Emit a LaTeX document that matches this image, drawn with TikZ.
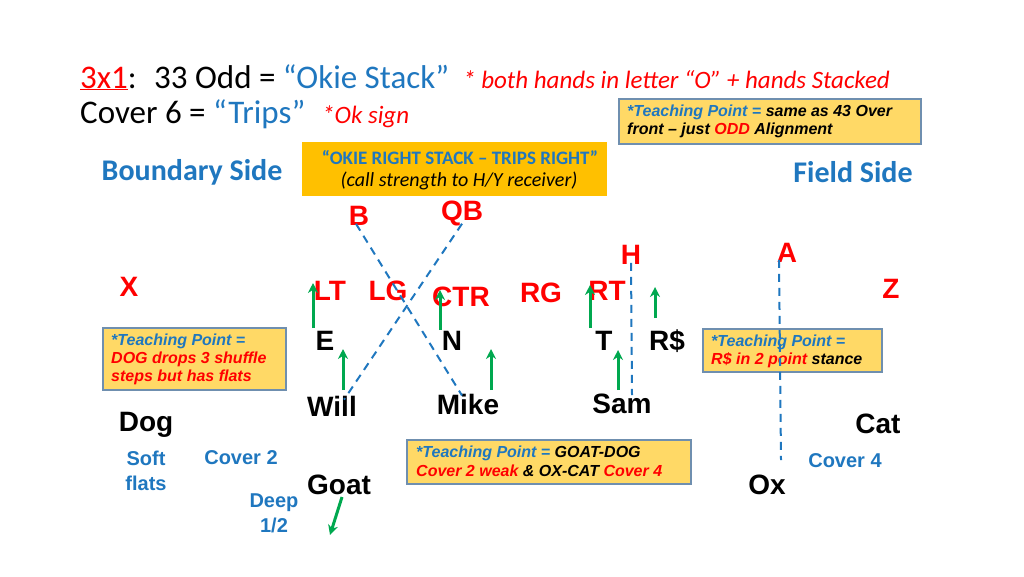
\documentclass[tikz,border=0pt]{standalone}
\usepackage{fontspec}
\usetikzlibrary{arrows.meta}
\setmainfont{Carlito}
\newfontfamily\arial{Liberation Sans}
\definecolor{tblue}{HTML}{1F77BF}
\definecolor{tred}{HTML}{FF0000}
\definecolor{tgreen}{HTML}{00A84F}
\definecolor{boxy}{HTML}{FFD966}
\definecolor{boxo}{HTML}{FFC000}
\definecolor{boxline}{HTML}{6F8FAF}
\begin{document}
\begin{tikzpicture}[x=1pt,y=-1pt,
  off/.style={text=tred,font=\arial\bfseries\fontsize{28}{28}\selectfont,inner sep=0pt},
  def/.style={text=black,font=\arial\bfseries\fontsize{28}{28}\selectfont,inner sep=0pt},
  lbl/.style={text=tblue,font=\arial\bfseries\fontsize{20}{25}\selectfont,inner sep=0pt,align=center},
  tbox/.style={draw=boxline,fill=boxy,line width=1.2pt,inner sep=0pt,anchor=north west},
  ttext/.style={font=\arial\bfseries\itshape\fontsize{16}{18}\selectfont,align=left,anchor=west,inner sep=0pt},
  garrow/.style={draw=tgreen,line width=3pt,-{Stealth[length=10pt,width=10pt]}},
  bdash/.style={draw=tblue,line width=2pt,dash pattern=on 8pt off 6pt}]
\useasboundingbox (0,0) rectangle (1024,576);
% title
\node[anchor=base west,inner sep=0pt,font=\fontsize{33}{33}\selectfont] (t1) at (80,88)
 {\textcolor{tred}{\underline{3x1}}: \ 33 Odd = \textcolor{tblue}{“Okie Stack”}};
\node[anchor=base west,inner sep=0pt,font=\itshape\fontsize{25}{25}\selectfont,text=tred] (t1b) at (463,88)
 {* both hands in letter “O” + hands Stacked};
\node[anchor=base west,inner sep=0pt,font=\fontsize{33}{33}\selectfont] (t2) at (80,123)
 {Cover 6 = \textcolor{tblue}{“Trips”}};
\node[anchor=base west,inner sep=0pt,font=\itshape\fontsize{25}{25}\selectfont,text=tred] (t2b) at (322,123)
 {*Ok sign};
% top right box
\path[tbox] (619,99) rectangle (921,144);
\node[ttext] (tp1) at (627,112) {\textcolor{tblue}{*Teaching Point =} same as 43 Over};
\node[ttext] (tp1b) at (627,130) {front – just \textcolor{tred}{ODD} Alignment};
% orange box
\path[fill=boxo] (302,142) rectangle (607,196);
\node[font=\bfseries\fontsize{19}{19}\selectfont,text=tblue,inner sep=0pt] (ob1) at (460,158) {“OKIE RIGHT STACK – TRIPS RIGHT”};
\node[font=\itshape\fontsize{20}{20}\selectfont,inner sep=0pt] (ob2) at (459,181) {(call strength to H/Y receiver)};
\node[font=\bfseries\fontsize{30}{30}\selectfont,text=tblue,inner sep=0pt] (bs) at (192,172) {Boundary Side};
\node[font=\bfseries\fontsize{30}{30}\selectfont,text=tblue,inner sep=0pt] (fs) at (853,172) {Field Side};
% offense
\node[off] (B) at (359,216) {B};
\node[off] (QB) at (462,213) {QB};
\node[off] (H) at (631,255) {H};
\node[off] (A) at (787,253) {A};
\node[off] (X) at (129,287) {X};
\node[off] (Z) at (891,289) {Z};
\node[off] (LT) at (330,291) {LT};
\node[off] (LG) at (388,291) {LG};
\node[off] (CTR) at (461,297) {CTR};
\node[off] (RG) at (541,293) {RG};
\node[off] (RT) at (607,291) {RT};
% defense
\node[def] (E) at (325,341) {E};
\node[def] (N) at (452,341) {N};
\node[def] (T) at (604,341) {T};
\node[def] (R) at (667,341) {R\$};
\node[def] (Will) at (332,406) {Will};
\node[def] (Mike) at (468,404) {Mike};
\node[def] (Sam) at (622,404) {Sam};
\node[def] (Dog) at (146,425) {Dog};
\node[def] (Cat) at (878,424) {Cat};
\node[def] (Goat) at (339,485) {Goat};
\node[def] (Ox) at (767,485) {Ox};
% labels
\node[lbl] (soft) at (146,471) {Soft\\flats};
\node[lbl] (c2) at (241,458) {Cover 2};
\node[lbl] (deep) at (274,513) {Deep\\1/2};
\node[lbl] (c4) at (845,461) {Cover 4};
% boxes
\path[tbox] (103,328) rectangle (286,390);
\node[ttext] (tl1) at (111,341) {\textcolor{tblue}{*Teaching Point =}};
\node[ttext,text=tred] (tl2) at (111,359) {DOG drops 3 shuffle};
\node[ttext,text=tred] (tl3) at (111,377) {steps but has flats};
\path[tbox] (407,440) rectangle (691,484);
\node[ttext] (tm1) at (416,453) {\textcolor{tblue}{*Teaching Point =} GOAT-DOG};
\node[ttext] (tm2) at (416,471) {\textcolor{tred}{Cover 2 weak} \& OX-CAT \textcolor{tred}{Cover 4}};
\path[tbox] (703,329) rectangle (882,372);
\node[ttext] (tr1) at (711,342) {\textcolor{tblue}{*Teaching Point =}};
\node[ttext] (tr2) at (711,360) {\textcolor{tred}{R\$ in 2 point} stance};
% dashed routes
\coordinate (hend) at (632,395);
\coordinate (aend) at (781,460);
\draw[bdash] ([xshift=-3pt,yshift=2pt]B.south) -- ([xshift=-6pt,yshift=-2pt]Mike.north);
\draw[bdash] ([xshift=0pt,yshift=2pt]QB.south) -- ([xshift=12pt,yshift=-4pt]Will.north);
\draw[bdash] ([yshift=2pt]H.south) -- (hend);
\draw[bdash] ([xshift=-8pt,yshift=3pt]A.south) -- (aend);
% green arrows
\draw[garrow] (313,328) -- (313,283);
\draw[garrow] (343,390) -- (343,349);
\draw[garrow] (440,330) -- (440,290);
\draw[garrow] (491,390) -- (491,349);
\draw[garrow] (590,328) -- (590,285);
\draw[garrow] (618,390) -- (618,350);
\draw[garrow] (655,318) -- (655,287);
\draw[garrow] (342,497) -- (330,535);
\end{tikzpicture}
\end{document}
